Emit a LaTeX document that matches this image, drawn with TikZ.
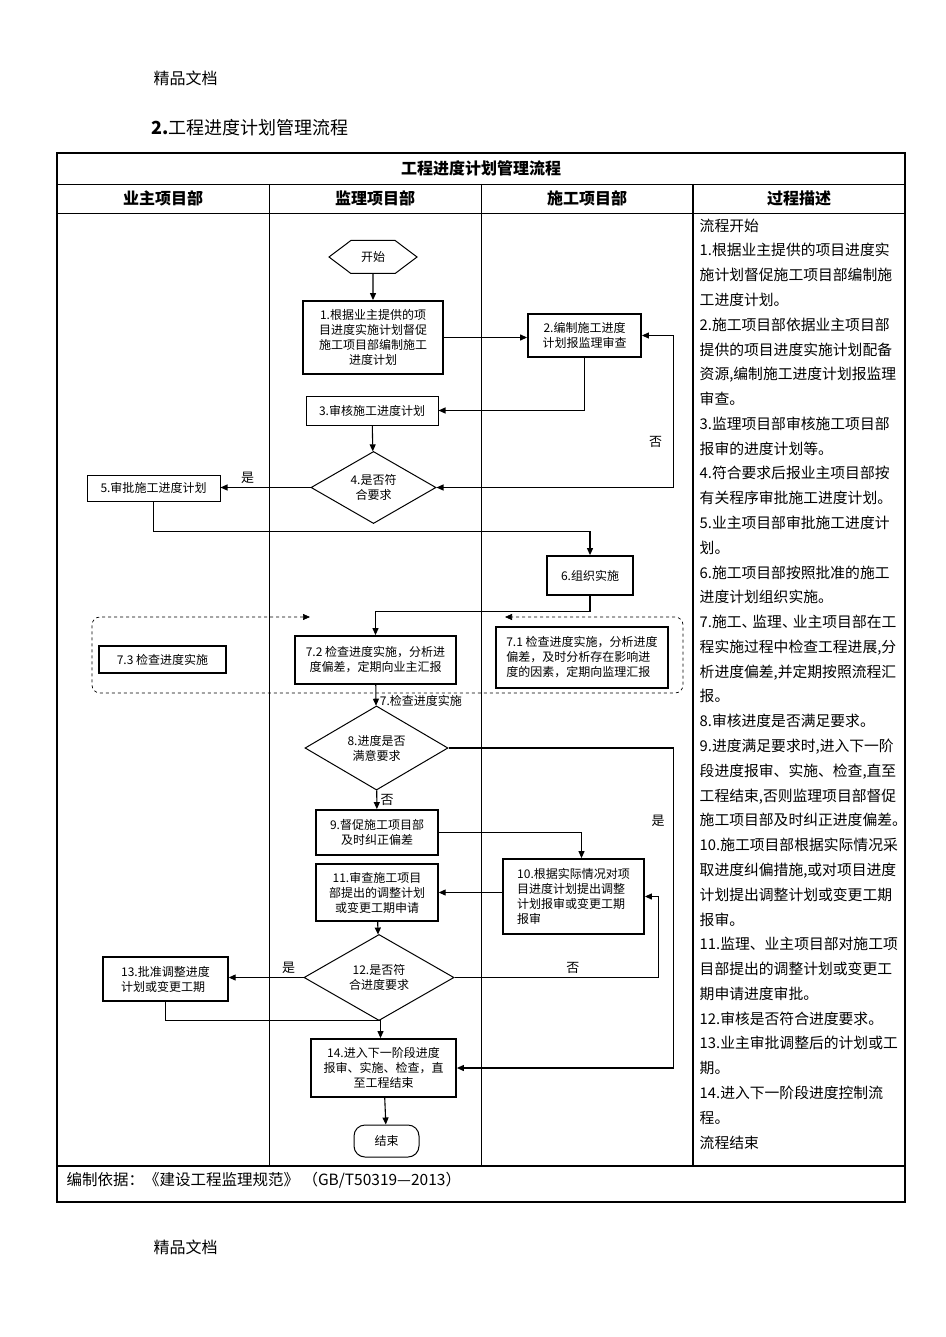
\documentclass[tikz,border=0pt]{standalone}
\usepackage{fontspec}
\setmainfont{Noto Sans CJK SC}
\usetikzlibrary{shapes.geometric,shapes.symbols,arrows.meta}

\begin{document}
\begin{tikzpicture}[x=1pt,y=-1pt,>={Triangle[length=7pt,width=6pt]},
    every node/.style={font=\fontsize{12}{15}\selectfont},
    box/.style={draw,line width=1.8pt,align=center,inner sep=2pt},
    thinbox/.style={box,line width=1pt},
    choice/.style={draw,diamond,line width=1pt,align=center,inner sep=0pt},
    conn/.style={->,line width=1.1pt},
    lane/.style={line width=0.8pt},
    head/.style={font=\fontsize{16}{18}\selectfont\bfseries},
    yesno/.style={font=\fontsize{13}{15}\selectfont}]
    \fill[white] (0,0) rectangle (945,1337);
    \useasboundingbox (0,0) rectangle (945,1337);

    % page texts
    \node[anchor=west,font=\fontsize{16}{18}\selectfont] (mark1) at (150,78) {精品文档};
    \node[anchor=west,font=\fontsize{18}{20}\selectfont] (heading) at (148,128) {\textbf{2.}工程进度计划管理流程};
    \node[anchor=west,font=\fontsize{16}{18}\selectfont] (mark2) at (150,1247) {精品文档};

    % table
    \draw[line width=1.6pt] (57,153) rectangle (905,1202);
    \draw[lane] (57,184) -- (905,184) (57,213) -- (905,213);
    \draw[line width=1.6pt] (57,1166) -- (905,1166);
    \draw[lane] (269,184) -- (269,1166) (481,184) -- (481,1166);
    \draw[line width=1.4pt] (693,184) -- (693,1166);
    \node[head] (title) at (481,168) {工程进度计划管理流程};
    \node[head] (owner)   at (163,198) {业主项目部};
    \node[head] (super)   at (375,198) {监理项目部};
    \node[head] (builder) at (587,198) {施工项目部};
    \node[head] (descr)   at (799,198) {过程描述};
    \node[anchor=west,font=\fontsize{15.5}{18}\selectfont] (basis) at (63,1180)
        {编制依据：《建设工程监理规范》 （GB/T50319—2013）};

    % process description
    \node[anchor=north west,inner sep=0pt,align=left,font=\fontsize{14.8}{24.78}\selectfont] (steps) at (699.5,218.5) {
    流程开始\\
    1.根据业主提供的项目进度实\\
    施计划督促施工项目部编制施\\
    工进度计划。\\
    2.施工项目部依据业主项目部\\
    提供的项目进度实施计划配备\\
    资源,编制施工进度计划报监理\\
    审查。\\
    3.监理项目部审核施工项目部\\
    报审的进度计划等。\\
    4.符合要求后报业主项目部按\\
    有关程序审批施工进度计划。\\
    5.业主项目部审批施工进度计\\
    划。\\
    6.施工项目部按照批准的施工\\
    进度计划组织实施。\\
    7.施工、\kern-4pt监理、\kern-4pt业主项目部在工\\
    程实施过程中检查工程进展,分\\
    析进度偏差,并定期按照流程汇\\
    报。\\
    8.审核进度是否满足要求。\\
    9.进度满足要求时,进入下一阶\\
    段进度报审、实施、检查,直至\\
    工程结束,否则监理项目部督促\\
    施工项目部及时纠正进度偏差。\\
    10.施工项目部根据实际情况采\\
    取进度纠偏措施,或对项目进度\\
    计划提出调整计划或变更工期\\
    报审。\\
    11.监理、业主项目部对施工项\\
    目部提出的调整计划或变更工\\
    期申请进度审批。\\
    12.审核是否符合进度要求。\\
    13.业主审批调整后的计划或工\\
    期。\\
    14.进入下一阶段进度控制流\\
    程。\\
    流程结束};

    % flow chart
    \node[draw,signal,signal to=west and east,signal pointer angle=74,minimum width=88pt,
          minimum height=33pt,line width=1pt] (start) at (373,257) {开始};
    \node[box,minimum width=140pt,minimum height=73pt] (box1) at (373,337.5)
        {1.根据业主提供的项\\目进度实施计划督促\\施工项目部编制施工\\进度计划};
    \node[box,minimum width=113pt,minimum height=43pt] (box2) at (584.5,335.5)
        {2.编制施工进度\\计划报监理审查};
    \node[thinbox,minimum width=132pt,minimum height=29pt] (box3) at (372,410.5) {3.审核施工进度计划};
    \node[choice,minimum width=125pt,minimum height=71pt] (d4) at (373.5,487.5) {4.是否符\\合要求};
    \node[thinbox,minimum width=133pt,minimum height=26pt] (box5) at (153.5,488) {5.审批施工进度计划};
    \node[box,minimum width=86pt,minimum height=39pt] (box6) at (590,575.5) {6.组织实施};
    \node[box,minimum width=161pt,minimum height=48pt] (box72) at (375.5,660)
        {7.2 检查进度实施，分析进\\度偏差，定期向业主汇报};
    \node[box,minimum width=172pt,minimum height=61pt,align=left] (box71) at (582,657.5)
        {7.1 检查进度实施，分析进度\\偏差，及时分析存在影响进\\度的因素，定期向监理汇报};
    \node[box,minimum width=127pt,minimum height=27pt] (box73) at (162.5,659.5) {7.3 检查进度实施};
    \node[choice,minimum width=143pt,minimum height=74pt] (d8) at (376.5,748) {8.进度是否\\满意要求};
    \node[box,minimum width=122pt,minimum height=45pt] (box9) at (377,832.5) {9.督促施工项目部\\及时纠正偏差};
    \node[box,minimum width=141pt,minimum height=75pt,align=left] (box10) at (573.5,896.5)
        {10.根据实际情况对项\\目进度计划提出调整\\计划报审或变更工期\\报审};
    \node[box,line width=1.4pt,minimum width=122pt,minimum height=57pt] (box11) at (377,892.5)
        {11.审查施工项目\\部提出的调整计划\\或变更工期申请};
    \node[choice,minimum width=150pt,minimum height=69pt] (d12) at (379,977.5) {12.是否符\\合进度要求};
    \node[box,line width=1.4pt,minimum width=125pt,minimum height=44pt,align=left] (box13) at (165.5,979)
        {13.批准调整进度\\计划或变更工期};
    \node[box,minimum width=145pt,minimum height=58pt] (box14) at (383.5,1068)
        {14.进入下一阶段进度\\报审、实施、检查，直\\至工程结束};
    \node[draw,rounded corners=11pt,minimum width=65pt,minimum height=32pt,line width=1pt] (finish) at (386.5,1141) {结束};

    % dashed check loop
    \coordinate (chkl) at (310,617);
    \coordinate (chkr) at (505,617);
    \draw[dashed,line width=0.7pt,rounded corners=8pt,<->] (chkl) -- (92,617) -- (92,693) -- (683,693) -- (683,617) -- (chkr);

    \path[conn]
    (start) edge (box1)
    (box1) edge (box1.east -| box2.west)
    (box3) edge (d4)
    (d4.west) edge node[yesno,above,pos=0.7] {是} (d4.west -| box5.east)
    (box72) edge node[right,pos=0.75] {7.检查进度实施} (d8)
    (d8) edge node[yesno,right] {否} (box9)
    (box10.west |- box11) edge (box11)
    (box11) edge (d12)
    (d12.west) edge node[yesno,above,pos=0.2] {是} (d12.west -| box13.east)
    (box14) edge (finish);

    \draw[conn] (box2) |- (box3);
    \draw[conn,<->] (d4.east) -| node[yesno,pos=0.65,left=8pt] {否} ([xshift=32pt]box2.east) -- (box2.east);
    \draw[conn] (box5.south) -- ++(0,30) -| (box6);
    \draw[conn] (box6.south) -- ++(0,16) -| (box72);
    \draw[conn] (box9.east) -| ([xshift=8pt]box10.north);
    \draw[conn] (d12.east) -- node[yesno,above,pos=0.58] {否} ++(204,0) |- (box10.east);
    \draw[conn] (d8.east) -- ++(225,0) |- node[yesno,pos=0.114,left=5pt] {是} (box14.east);
    \draw[conn] (box13.south) -- ++(0,19) -| ([xshift=-3pt]box14.north);
\end{tikzpicture}
\end{document}
